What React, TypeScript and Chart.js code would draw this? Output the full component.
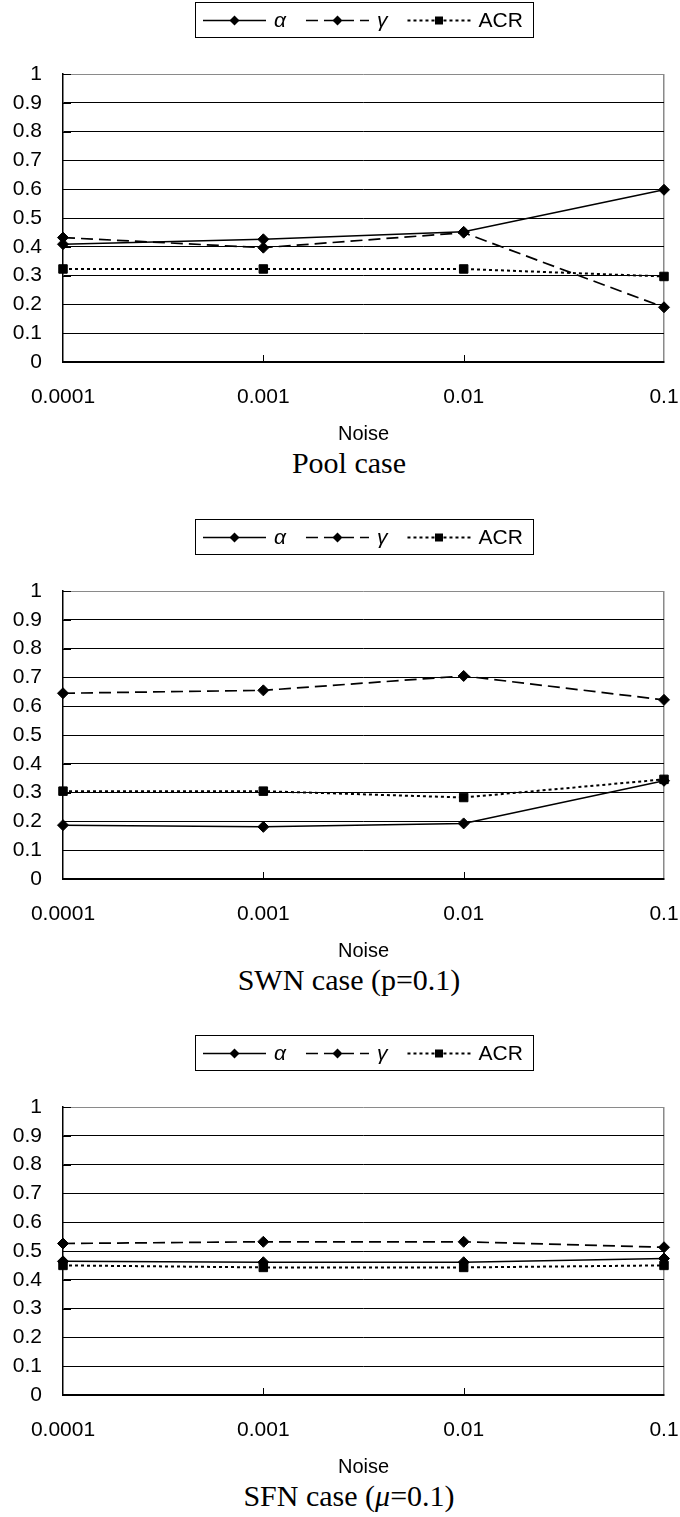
import React, { useEffect, useRef } from 'react';
import { Chart, registerables } from 'chart.js';

Chart.register(...registerables);

// ---- data ----
const noiseLevels = ['0.0001', '0.001', '0.01', '0.1'];
const yTickLabels = ['0', '0.1', '0.2', '0.3', '0.4', '0.5', '0.6', '0.7', '0.8', '0.9', '1'];
const seriesNames = ['α', 'γ', 'ACR'];

const poolAlpha = [0.409, 0.426, 0.452, 0.598];
const poolGamma = [0.432, 0.397, 0.449, 0.19];
const poolACR = [0.323, 0.323, 0.323, 0.297];

const swnAlpha = [0.187, 0.181, 0.193, 0.341];
const swnGamma = [0.645, 0.655, 0.705, 0.622];
const swnACR = [0.305, 0.305, 0.283, 0.346];

const sfnAlpha = [0.464, 0.461, 0.461, 0.474];
const sfnGamma = [0.526, 0.532, 0.532, 0.513];
const sfnACR = [0.45, 0.443, 0.443, 0.45];

const xTitle = 'Noise';

// ---- styling ----
const SANS = '"Liberation Sans", Arial, Helvetica, sans-serif';
const CANVAS_W = 690;
const CANVAS_H = 444;
const PLOT_RIGHT = 664;
const DASH_GAMMA = [12, 6];
const DASH_ACR = [3, 3];

const legendPlugin = {
  id: 'lineLegend',
  afterDraw(chart: any) {
    const { ctx, chartArea } = chart;
    const ds = chart.data.datasets;
    ctx.save();
    const lineLen = 63;
    const gapText = 8;
    const gapItem = 20;
    const padL = 8;
    const padR = 10;
    const fonts = ds.map((d: any) =>
      d.label === 'ACR' ? `21px ${SANS}` : `italic 21px ${SANS}`
    );
    const widths = ds.map((d: any, i: number) => {
      ctx.font = fonts[i];
      return ctx.measureText(d.label).width;
    });
    let total = padL + padR + gapItem * (ds.length - 1);
    widths.forEach((w: number) => (total += lineLen + gapText + w));
    const cx = (chartArea.left + chartArea.right) / 2;
    const x0 = Math.round(cx - total / 2);
    const boxH = 35;
    ctx.strokeStyle = '#000';
    ctx.lineWidth = 1;
    ctx.setLineDash([]);
    ctx.strokeRect(x0 + 0.5, 0.5, Math.round(total), boxH);
    const y = 18.5;
    let x = x0 + padL;
    ds.forEach((d: any, i: number) => {
      ctx.strokeStyle = '#000';
      ctx.lineWidth = d.borderWidth;
      ctx.setLineDash(d.borderDash || []);
      ctx.beginPath();
      ctx.moveTo(x, y);
      ctx.lineTo(x + lineLen, y);
      ctx.stroke();
      ctx.setLineDash([]);
      const mx = x + lineLen / 2;
      ctx.fillStyle = '#000';
      ctx.beginPath();
      if (d.pointStyle === 'rect') {
        ctx.rect(mx - 4, y - 4, 8, 8);
      } else {
        const r = 5;
        ctx.moveTo(mx - r, y);
        ctx.lineTo(mx, y - r);
        ctx.lineTo(mx + r, y);
        ctx.lineTo(mx, y + r);
        ctx.closePath();
      }
      ctx.fill();
      x += lineLen + gapText;
      ctx.font = fonts[i];
      ctx.textBaseline = 'middle';
      ctx.textAlign = 'left';
      ctx.fillText(d.label, x, y + 1);
      x += widths[i] + gapItem;
    });
    ctx.restore();
  },
};

const innerTicksPlugin = {
  id: 'innerTicks',
  afterDraw(chart: any) {
    const { ctx, chartArea, scales } = chart;
    const xs = scales.x;
    const ys = scales.y;
    ctx.save();
    ctx.strokeStyle = '#000';
    ctx.lineWidth = 1;
    for (let i = 1; i < xs.ticks.length - 1; i++) {
      const px = Math.round(xs.getPixelForTick(i)) + 0.5;
      ctx.beginPath();
      ctx.moveTo(px, chartArea.bottom);
      ctx.lineTo(px, chartArea.bottom - 7);
      ctx.stroke();
    }
    for (let i = 1; i < ys.ticks.length; i++) {
      const py = Math.round(ys.getPixelForTick(i)) + 0.5;
      ctx.beginPath();
      ctx.moveTo(chartArea.left, py);
      ctx.lineTo(chartArea.left + 8, py);
      ctx.stroke();
    }
    ctx.restore();
  },
};

function NoiseChart({ alpha, gamma, acr }: { alpha: number[]; gamma: number[]; acr: number[] }) {
  const ref = useRef<HTMLCanvasElement>(null);
  useEffect(() => {
    if (!ref.current) return;
    const chart = new Chart(ref.current, {
      type: 'line',
      data: {
        labels: noiseLevels,
        datasets: [
          {
            label: seriesNames[0],
            data: alpha,
            borderColor: '#000',
            backgroundColor: '#000',
            borderWidth: 1.5,
            pointStyle: 'rectRot',
            pointRadius: 5.5,
            pointBorderWidth: 1,
            tension: 0,
            clip: false,
          },
          {
            label: seriesNames[1],
            data: gamma,
            borderColor: '#000',
            backgroundColor: '#000',
            borderWidth: 1.7,
            borderDash: DASH_GAMMA,
            pointStyle: 'rectRot',
            pointRadius: 5.5,
            pointBorderWidth: 1,
            tension: 0,
            clip: false,
          },
          {
            label: seriesNames[2],
            data: acr,
            borderColor: '#000',
            backgroundColor: '#000',
            borderWidth: 2,
            borderDash: DASH_ACR,
            pointStyle: 'rect',
            pointRadius: 6,
            pointBorderWidth: 1,
            tension: 0,
            clip: false,
          },
        ] as any,
      },
      options: {
        animation: false,
        responsive: false,
        layout: { padding: { top: 72, left: 0, right: CANVAS_W - PLOT_RIGHT, bottom: 0 } },
        plugins: {
          legend: { display: false },
          tooltip: { enabled: false },
        },
        scales: {
          x: {
            type: 'category',
            offset: false,
            grid: {
              drawTicks: true,
              tickLength: 23,
              tickColor: 'rgba(0,0,0,0)',
              color: (c: any) => (c.index === noiseLevels.length - 1 ? '#8a8a8a' : 'rgba(0,0,0,0)'),
              lineWidth: 1.5,
            },
            border: { color: '#000', width: 2 },
            ticks: {
              color: '#000',
              font: { family: SANS, size: 21 },
              padding: 0,
              maxRotation: 0,
              autoSkip: false,
            },
            title: {
              display: true,
              text: xTitle,
              color: '#000',
              font: { family: SANS, size: 20 },
              padding: { top: 0, bottom: 0 },
            },
            afterFit: (s: any) => {
              s.height = 84;
            },
          },
          y: {
            min: 0,
            max: 1,
            grid: {
              drawTicks: false,
              color: (c: any) => (c.tick && c.tick.value >= 0.999 ? '#8a8a8a' : '#000'),
              lineWidth: 1,
            },
            border: { color: '#000', width: 1.5 },
            ticks: {
              stepSize: 0.1,
              color: '#000',
              font: { family: SANS, size: 21 },
              padding: 21,
              callback: (_v: any, i: number) => yTickLabels[i],
            },
            afterFit: (s: any) => {
              s.width = 63;
            },
          },
        },
      },
      plugins: [legendPlugin, innerTicksPlugin],
    } as any);
    return () => chart.destroy();
  }, [alpha, gamma, acr]);
  return <canvas ref={ref} width={CANVAS_W} height={CANVAS_H} style={{ display: 'block', width: CANVAS_W, height: CANVAS_H }} />;
}

const sections = [
  { top: 2, alpha: poolAlpha, gamma: poolGamma, acr: poolACR, caption: <>Pool case</> },
  { top: 519, alpha: swnAlpha, gamma: swnGamma, acr: swnACR, caption: <>SWN case (p=0.1)</> },
  {
    top: 1035,
    alpha: sfnAlpha,
    gamma: sfnGamma,
    acr: sfnACR,
    caption: (
      <>
        SFN case (<i>μ</i>=0.1)
      </>
    ),
  },
];

export default function App() {
  useEffect(() => {
    document.body.style.margin = '0';
    document.body.style.background = '#fff';
  }, []);
  return (
    <div style={{ position: 'relative', width: 680, height: 1517, overflow: 'hidden', background: '#fff' }}>
      {sections.map((s, i) => (
        <React.Fragment key={i}>
          <div style={{ position: 'absolute', left: 0, top: s.top, width: CANVAS_W, height: CANVAS_H }}>
            <NoiseChart alpha={s.alpha} gamma={s.gamma} acr={s.acr} />
          </div>
          <div
            style={{
              position: 'absolute',
              left: 349 - 200,
              width: 400,
              top: s.top + 461 - 16,
              height: 32,
              lineHeight: '32px',
              textAlign: 'center',
              fontFamily: '"Liberation Serif", "Times New Roman", serif',
              fontSize: 30,
              color: '#000',
              whiteSpace: 'nowrap',
            }}
          >
            {s.caption}
          </div>
        </React.Fragment>
      ))}
    </div>
  );
}
